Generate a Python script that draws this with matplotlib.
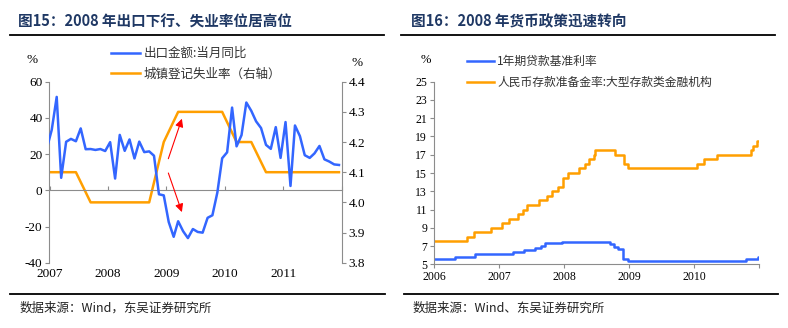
import matplotlib
matplotlib.use("Agg")
import matplotlib.pyplot as plt
import matplotlib.dates as mdates
from matplotlib.lines import Line2D
import pandas as pd

plt.rcParams['font.family'] = ['Noto Sans CJK SC', 'DejaVu Sans']
plt.rcParams['axes.unicode_minus'] = False

# ---- data: left chart (monthly export yoy, quarterly unemployment) ----
export_yoy = [23.0,
              33.4, 51.6, 6.9, 26.8, 28.4, 27.1, 34.2, 22.7, 22.8, 22.3, 22.8, 21.7,
              26.6, 6.5, 30.6, 21.8, 28.1, 17.6, 26.9, 21.1, 21.5, 19.1, -2.2, -2.8,
              -17.5, -25.7, -17.1, -22.6, -26.4, -21.4, -23.0, -23.4, -15.2, -13.8, -1.2, 17.7,
              21.0, 45.7, 24.3, 30.5, 48.5, 43.9, 38.1, 34.4, 25.1, 22.9, 34.9, 17.9,
              37.7, 2.4, 35.8, 29.9, 19.4, 17.9, 20.4, 24.5, 17.1, 15.9, 14.3, 14.0]
unemp_rate = [4.1, 4.1, 4.1, 4.0, 4.0, 4.0, 4.0, 4.0, 4.2, 4.3, 4.3, 4.3, 4.3,
              4.2, 4.2, 4.1, 4.1, 4.1, 4.1, 4.1, 4.1]
export_dates = pd.date_range('2006-12-01', '2011-12-01', freq='MS') + pd.Timedelta(days=14)
unemp_dates = pd.date_range('2006-12-01', '2011-12-01', freq='3MS') + pd.Timedelta(days=14)

# ---- data: right chart (policy rate changes) ----
lend_dates = ['2006-01-01', '2006-04-28', '2006-08-19', '2007-03-18', '2007-05-19',
              '2007-07-21', '2007-08-22', '2007-09-15', '2007-12-21', '2008-09-16',
              '2008-10-09', '2008-10-30', '2008-11-27', '2008-12-23', '2010-10-20',
              '2010-12-26', '2010-12-31']
lend_rate = [5.58, 5.85, 6.12, 6.39, 6.57, 6.84, 7.02, 7.29, 7.47, 7.20,
             6.93, 6.66, 5.58, 5.31, 5.56, 5.81, 5.81]
rrr_dates = ['2006-01-01', '2006-07-05', '2006-08-15', '2006-11-15', '2007-01-15',
             '2007-02-25', '2007-04-16', '2007-05-15', '2007-06-05', '2007-08-15',
             '2007-09-25', '2007-10-25', '2007-11-26', '2007-12-25', '2008-01-25',
             '2008-03-25', '2008-04-25', '2008-05-20', '2008-06-15', '2008-06-25',
             '2008-10-15', '2008-12-05', '2008-12-25', '2010-01-18', '2010-02-25',
             '2010-05-10', '2010-11-16', '2010-11-29', '2010-12-20', '2010-12-31']
rrr_rate = [7.5, 8.0, 8.5, 9.0, 9.5, 10.0, 10.5, 11.0, 11.5, 12.0,
            12.5, 13.0, 13.5, 14.5, 15.0, 15.5, 16.0, 16.5, 17.0, 17.5,
            17.0, 16.0, 15.5, 16.0, 16.5, 17.0, 17.5, 18.0, 18.5, 18.5]

BLUE = '#3366FF'
ORANGE = '#FF9F00'
GRAY = '#8C8C8C'
NAVY = '#1F3864'
SERIF = 'Liberation Serif'
W, H = 788, 328

fig = plt.figure(figsize=(W / 100, H / 100), dpi=100)


def fx(px):
    return px / W


def fy(py):
    return 1 - py / H


# ---------------- left chart ----------------
ax = fig.add_axes([fx(49.5), fy(262.7), fx(341.7 - 49.5), (262.7 - 81.7) / H])
ax2 = ax.twinx()
ax.plot(pd.to_datetime(export_dates), export_yoy, color=BLUE, lw=1.8, zorder=3)
ax2.plot(pd.to_datetime(unemp_dates), unemp_rate, color=ORANGE, lw=1.8)
ax.set_zorder(ax2.get_zorder() + 1)
ax.patch.set_visible(False)

ax.set_xlim(pd.Timestamp('2007-01-01'), pd.Timestamp('2012-01-01'))
ax.set_ylim(-40, 60)
ax2.set_ylim(3.8, 4.4)
ax.set_yticks(range(-40, 61, 20))
ax2.set_yticks([3.8, 3.9, 4.0, 4.1, 4.2, 4.3, 4.4])
ax2.set_yticklabels(['3.8', '3.9', '4.0', '4.1', '4.2', '4.3', '4.4'])

for a in (ax, ax2):
    for s in a.spines.values():
        s.set_visible(False)
ax.spines['left'].set_visible(True)
ax.spines['left'].set_color(GRAY)
ax.spines['bottom'].set_visible(True)
ax.spines['bottom'].set_color(GRAY)
ax.spines['bottom'].set_position(('data', 0))
ax2.spines['right'].set_visible(True)
ax2.spines['right'].set_color(GRAY)

years_l = pd.date_range('2007-01-01', '2012-01-01', freq='YS')
ax.set_xticks(years_l)
ax.tick_params(axis='x', direction='in', length=3, color=GRAY, labelbottom=False)
ax.tick_params(axis='y', direction='out', length=3, color=GRAY, labelsize=9.5, pad=2)
ax2.tick_params(axis='y', direction='out', length=3, color=GRAY, labelsize=9.5, pad=2)
for lab in ax.get_yticklabels() + ax2.get_yticklabels():
    lab.set_family(SERIF)

sec = ax.secondary_xaxis(0)
sec.set_xticks(years_l[:-1])
sec.xaxis.set_major_formatter(mdates.DateFormatter('%Y'))
sec.spines['bottom'].set_visible(False)
sec.tick_params(length=0, labelsize=9.5, pad=4)
for lab in sec.get_xticklabels():
    lab.set_family(SERIF)

arrow = dict(arrowstyle='-|>', color='red', lw=0.8, mutation_scale=12)
ax.annotate('', xy=(pd.Timestamp('2009-04-13'), 41), xytext=(pd.Timestamp('2009-01-07'), 16),
            arrowprops=arrow)
ax.annotate('', xy=(pd.Timestamp('2009-04-13'), -13.5), xytext=(pd.Timestamp('2009-01-07'), 11),
            arrowprops=arrow)

ax.legend([Line2D([], [], color=BLUE, lw=1.8), Line2D([], [], color=ORANGE, lw=1.8)],
          ['出口金额:当月同比', '城镇登记失业率（右轴）'],
          loc='upper left', bbox_to_anchor=(fx(111), fy(47)), bbox_transform=fig.transFigure,
          frameon=False, fontsize=9, handlelength=2.3, handletextpad=0.3,
          labelspacing=0.6, borderpad=0, borderaxespad=0, labelcolor='#333333')

fig.text(fx(32), fy(60), '%', ha='center', va='center', family=SERIF, fontsize=9.5)
fig.text(fx(357), fy(63), '%', ha='center', va='center', family=SERIF, fontsize=9.5)

# ---------------- right chart ----------------
bx = fig.add_axes([fx(434), fy(264.3), fx(759.3 - 434), (264.3 - 81.7) / H])
bx.plot(pd.to_datetime(lend_dates), lend_rate, color=BLUE, lw=1.8, drawstyle='steps-post')
bx.plot(pd.to_datetime(rrr_dates), rrr_rate, color=ORANGE, lw=1.8, drawstyle='steps-post')
bx.set_xlim(pd.Timestamp('2006-01-01'), pd.Timestamp('2011-01-01'))
bx.set_ylim(5, 25)
bx.set_yticks(range(5, 26, 2))
years_r = pd.date_range('2006-01-01', '2011-01-01', freq='YS')
bx.set_xticks(years_r)
bx.set_xticklabels([str(d.year) for d in years_r[:-1]] + [''])
for s in ('top', 'right'):
    bx.spines[s].set_visible(False)
for s in ('left', 'bottom'):
    bx.spines[s].set_color(GRAY)
bx.tick_params(direction='out', length=3, color=GRAY, labelsize=8.5, pad=2)
for lab in bx.get_xticklabels() + bx.get_yticklabels():
    lab.set_family(SERIF)

bx.legend(['1年期贷款基准利率', '人民币存款准备金率:大型存款类金融机构'],
          loc='upper left', bbox_to_anchor=(fx(466.7), fy(55)), bbox_transform=fig.transFigure,
          frameon=False, fontsize=8.5, handlelength=2.3, handletextpad=0.3,
          labelspacing=0.7, borderpad=0, borderaxespad=0, labelcolor='#333333')
fig.text(fx(425.7), fy(60), '%', ha='center', va='center', family=SERIF, fontsize=9)

# ---------------- titles, rules, sources ----------------
fig.text(fx(18), fy(21.7), '图15：2008 年出口下行、失业率位居高位', va='center',
         fontsize=10.5, fontweight='bold', color=NAVY)
fig.text(fx(411), fy(21.7), '图16：2008 年货币政策迅速转向', va='center',
         fontsize=10.5, fontweight='bold', color=NAVY)
for x0, x1 in ((10, 384), (401, 775)):
    fig.add_artist(Line2D([fx(x0), fx(x1)], [fy(35), fy(35)], color='black', lw=1.3))
for x0, x1 in ((10, 385), (404, 778)):
    fig.add_artist(Line2D([fx(x0), fx(x1)], [fy(293.5), fy(293.5)], color='black', lw=1.3))
fig.text(fx(20), fy(308.5), '数据来源：Wind，东吴证券研究所', va='center', fontsize=9, color='#222222')
fig.text(fx(413), fy(308.5), '数据来源：Wind、东吴证券研究所', va='center', fontsize=9, color='#222222')

fig.savefig('out.png', dpi=100)
